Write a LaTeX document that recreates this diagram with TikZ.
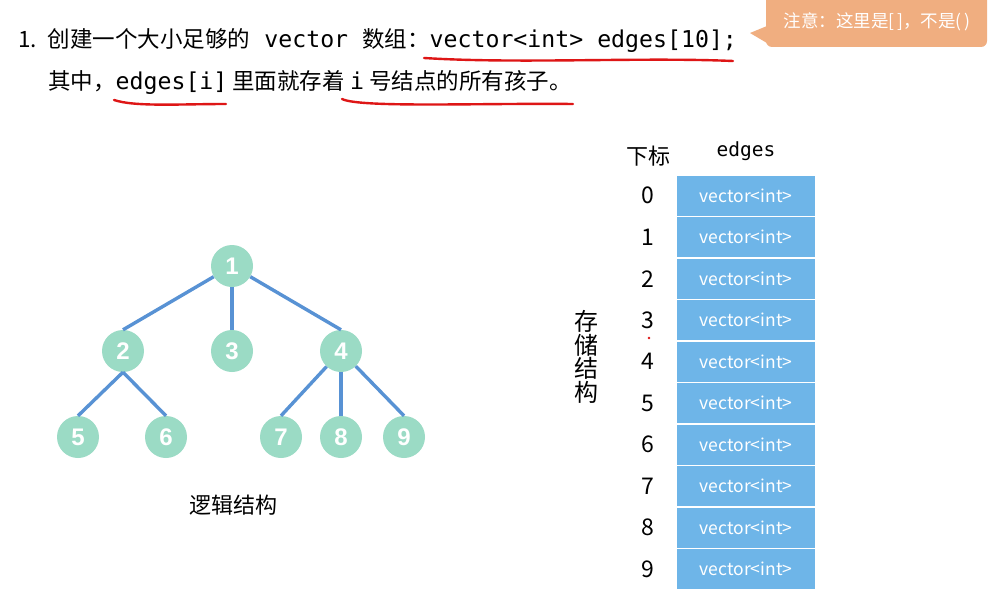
\documentclass[tikz,border=0pt]{standalone}
\usepackage{fontspec}
\usepackage{xcolor}
\usetikzlibrary{arrows.meta, positioning, calc}
\setmainfont{Noto Sans CJK SC}
\setmonofont{DejaVu Sans Mono}
\newfontfamily\numfont{Liberation Sans}
\newcommand{\code}[1]{{\fontsize{23.2}{27}\selectfont\ttfamily #1}}
\definecolor{tree-mint}{RGB}{155,219,197}
\definecolor{tree-blue}{RGB}{88,146,212}
\definecolor{cell-blue}{RGB}{110,181,232}
\definecolor{note-orange}{RGB}{240,174,128}
\definecolor{mark-red}{RGB}{222,22,22}

\begin{document}
\begin{tikzpicture}[
  x=1pt, y=-1pt,
  tnode/.style={circle, fill=tree-mint, minimum size=42pt, inner sep=0pt, text=white, font=\fontsize{24}{24}\selectfont\numfont\bfseries},
  tedge/.style={tree-blue, line width=3.4pt},
  cell/.style={fill=cell-blue, draw=white, line width=1.6pt, minimum width=139pt, minimum height=41.5pt, inner sep=0pt, text=white, font=\fontsize{17.5}{18}\selectfont},
  idx/.style={inner sep=0pt, font=\fontsize{23}{23}\selectfont},
  head/.style={inner sep=0pt, anchor=base west, font=\fontsize{22.5}{27}\selectfont},
  redmark/.style={mark-red, line width=2.4pt, line cap=round},
]
  \useasboundingbox[fill=white] (0,0) rectangle (988,594);

  % Heading
  \node[head] (line1) at (18,48) {1.\hspace{11pt}创建一个大小足够的\code{ vector }数组：\code{vector<int> edges[10];}};
  \node[head] (line2) at (48,89) {其中，\code{edges[i]} 里面就存着 \code{i} 号结点的所有孩子。};

  % Hand marks
  \draw[redmark] (424,58) .. controls (520,64) and (640,57) .. (733,61);
  \draw[redmark] (114,100) .. controls (135,107) and (180,104) .. (226,104);
  \draw[redmark] (342,99) .. controls (360,108) and (480,103) .. (573,104);
  \fill[mark-red] (649,338) circle (1.3pt);

  % Note
  \fill[note-orange, rounded corners=6pt] (766,-10) rectangle (987,47);
  \fill[note-orange] (767,26) -- (750,33) -- (772,46) -- cycle;
  \node[text=white, font=\fontsize{17.5}{18}\selectfont] (note) at (877,22) {注意：这里是[\,]，不是(\,)};

  % Tree
  \node[tnode] (n1) at (232,266) {1};
  \node[tnode] (n2) at (123,351) {2};
  \node[tnode] (n3) at (232,351) {3};
  \node[tnode] (n4) at (341,351) {4};
  \node[tnode] (n5) at (78,437) {5};
  \node[tnode] (n6) at (166,437) {6};
  \node[tnode] (n7) at (281,437) {7};
  \node[tnode] (n8) at (341,437) {8};
  \node[tnode] (n9) at (404,437) {9};
  \node[font=\fontsize{22}{22}\selectfont] (logic) at (233,505) {逻辑结构};

  \draw[tedge] (n1) -- (n2.north);
  \draw[tedge] (n1) -- (n3);
  \draw[tedge] (n1) -- (n4.north);
  \draw[tedge] (n2.south) -- (n5.north);
  \draw[tedge] (n2.south) -- (n6.north);
  \draw[tedge] (n4) -- (n7.north);
  \draw[tedge] (n4) -- (n8);
  \draw[tedge] (n4) -- (n9.north);

  % Storage
  \node[idx, font=\fontsize{22}{22}\selectfont] (hidx) at (648,156) {下标};
  \node[idx, font=\fontsize{19.5}{20}\selectfont\ttfamily] (hedges) at (746,151) {edges};
  \node[align=center, inner sep=0pt, font=\fontsize{24}{23.5}\selectfont] (store) at (586,357) {存\\储\\结\\构};

  \node[cell] (c0) at (746,195.75) {vector<int>};
  \node[cell] (c1) at (746,237.25) {vector<int>};
  \node[cell] (c2) at (746,278.75) {vector<int>};
  \node[cell] (c3) at (746,320.25) {vector<int>};
  \node[cell] (c4) at (746,361.75) {vector<int>};
  \node[cell] (c5) at (746,403.25) {vector<int>};
  \node[cell] (c6) at (746,444.75) {vector<int>};
  \node[cell] (c7) at (746,486.25) {vector<int>};
  \node[cell] (c8) at (746,527.75) {vector<int>};
  \node[cell] (c9) at (746,569.25) {vector<int>};

  \node[idx] (i0) at (c0 -| hidx) {0};
  \node[idx] (i1) at (c1 -| hidx) {1};
  \node[idx] (i2) at (c2 -| hidx) {2};
  \node[idx] (i3) at (c3 -| hidx) {3};
  \node[idx] (i4) at (c4 -| hidx) {4};
  \node[idx] (i5) at (c5 -| hidx) {5};
  \node[idx] (i6) at (c6 -| hidx) {6};
  \node[idx] (i7) at (c7 -| hidx) {7};
  \node[idx] (i8) at (c8 -| hidx) {8};
  \node[idx] (i9) at (c9 -| hidx) {9};
\end{tikzpicture}
\end{document}
